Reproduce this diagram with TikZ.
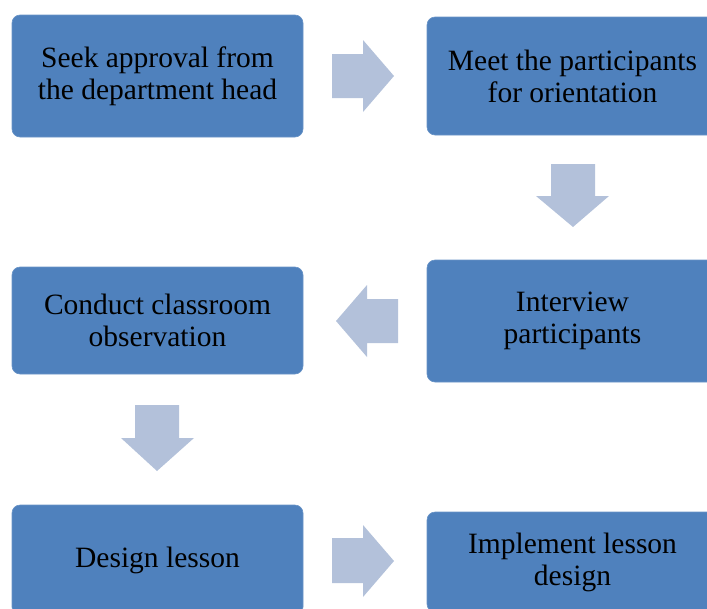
\documentclass[tikz,border=0pt]{standalone}
\usepackage{fontspec}
\setmainfont{Liberation Serif}
\definecolor{boxblue}{HTML}{4F81BD}
\definecolor{arrowblue}{HTML}{B3C1DA}
\tikzset{
  stepbox/.style={fill=boxblue, draw=boxblue!85!white, line width=0.6pt, rounded corners=8pt,
    minimum width=291pt, align=center, text=black, inner sep=0pt,
    font=\fontsize{29.5}{32}\selectfont},
  blockarrow/.style={fill=arrowblue, draw=none}
}
\begin{document}
\begin{tikzpicture}[x=1pt,y=-1pt]
\useasboundingbox (0,0) rectangle (707,608);
\clip (0,0) rectangle (707,608);
\node[stepbox, minimum height=122pt] (b1) at (157.5,76) {Seek approval from\\the department head};
\node[stepbox, minimum height=118pt] (b2) at (572.5,76) {Meet the participants\\for orientation};
\node[stepbox, minimum height=122pt] (b3) at (572.5,321) {Interview\\participants};
\node[stepbox, minimum height=107pt] (b4) at (157.5,320.5) {Conduct classroom\\observation};
\node[stepbox, minimum height=110pt] (b5) at (157.5,560) {Design lesson};
\node[stepbox, minimum height=100pt] (b6) at (572.5,562) {Implement lesson\\design};
% right arrow b1 -> b2
\fill[blockarrow] (332,54) -- (363,54) -- (363,40) -- (394,76) -- (363,112) -- (363,98) -- (332,98) -- cycle;
% down arrow b2 -> b3
\fill[blockarrow] (551,164) -- (595,164) -- (595,196) -- (609,196) -- (573,227) -- (536,196) -- (551,196) -- cycle;
% left arrow b3 -> b4
\fill[blockarrow] (398,299) -- (367,299) -- (367,285) -- (336,321) -- (367,357) -- (367,343) -- (398,343) -- cycle;
% down arrow b4 -> b5
\fill[blockarrow] (135,405) -- (179,405) -- (179,438) -- (194,438) -- (157,471) -- (121,438) -- (135,438) -- cycle;
% right arrow b5 -> b6
\fill[blockarrow] (332,538) -- (363,538) -- (363,525) -- (394,561) -- (363,597) -- (363,583) -- (332,583) -- cycle;
\end{tikzpicture}
\end{document}
